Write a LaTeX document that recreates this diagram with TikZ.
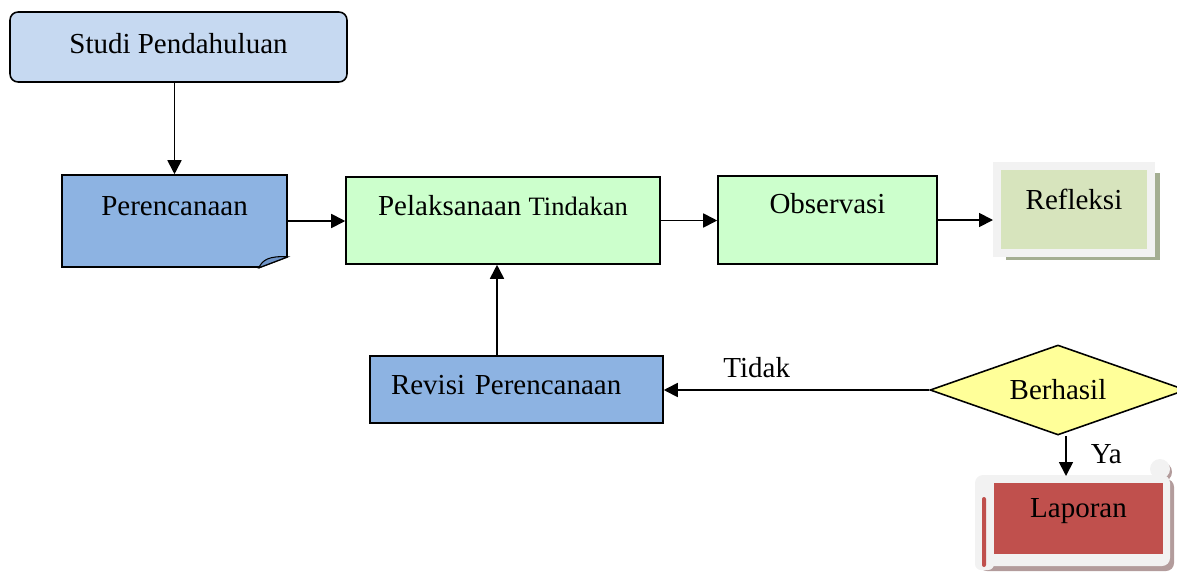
\documentclass[tikz,border=0pt]{standalone}
\usepackage{fontspec}
\setmainfont{Liberation Serif}
\usepackage{tikz}
\usetikzlibrary{arrows.meta, positioning, shapes.geometric, shadows}
\definecolor{studiblue}{HTML}{C6D9F1}
\definecolor{planblue}{HTML}{8DB3E2}
\definecolor{foldblue}{HTML}{6E94C8}
\definecolor{actgreen}{HTML}{CCFFCC}
\definecolor{reflgreen}{HTML}{D7E4BD}
\definecolor{reflshade}{HTML}{A4AE92}
\definecolor{framegray}{HTML}{F2F2F2}
\definecolor{decyellow}{HTML}{FFFF99}
\definecolor{lapred}{HTML}{C0504D}
\definecolor{lapshade}{HTML}{B39C9C}
\tikzset{box/.style={draw=black, line width=0.9pt, inner xsep=0pt, inner ysep=0pt, font=\fontsize{16.5}{20}\selectfont},
         lbl/.style={inner sep=0pt, font=\fontsize{16.5}{20}\selectfont},
         arr/.style={-{Triangle[length=0.28cm,width=0.28cm]}, line width=1pt}}

\begin{document}
\begin{tikzpicture}[x=0.02cm, y=-0.02cm]
                 \useasboundingbox (0,0) rectangle (1177,572);
                 \clip (0,0) rectangle (1177,572);
                 \node[box, rounded corners=0.16cm, fill=studiblue, minimum width=6.74cm, minimum height=1.4cm, text height=0.82cm, text depth=0.58cm] (studi) at (178.5,47) {Studi Pendahuluan};
                 \node[box, fill=planblue, minimum width=4.5cm, minimum height=1.84cm, text height=0.8cm, text depth=1.04cm] (plan) at (174.5,221) {Perencanaan};
                 \fill[white] ([shift={(-29,0)}]plan.south east) -- ([shift={(0,-11)}]plan.south east) -- ([shift={(3,-11)}]plan.south east) -- ([shift={(3,3)}]plan.south east) -- ([shift={(-29,3)}]plan.south east) -- cycle;
                 \draw[line width=0.9pt] ([shift={(-29,0)}]plan.south east) -- ([shift={(0,-11)}]plan.south east);
                 \filldraw[fill=foldblue, line width=0.6pt] ([shift={(-29,0)}]plan.south east) .. controls ([shift={(-25,-8)}]plan.south east) and ([shift={(-19,-12)}]plan.south east) .. ([shift={(0,-11)}]plan.south east) -- cycle;
                 \node[box, fill=actgreen, minimum width=6.28cm, minimum height=1.74cm, text height=0.76cm, text depth=0.98cm] (pel) at (503,220.5) {Pelaksanaan {\fontsize{15.1}{18}\selectfont Tindakan}};
                 \node[box, fill=actgreen, minimum width=4.38cm, minimum height=1.76cm, text height=0.74cm, text depth=1.02cm] (obs) at (827.5,220) {Observasi};
                 \node[box, draw=framegray, line width=0.16cm, fill=reflgreen, minimum width=3.08cm, minimum height=1.74cm, text height=0.86cm, text depth=0.88cm, drop shadow={shadow xshift=0.18cm, shadow yshift=-0.14cm, fill=reflshade, opacity=1}] (refl) at (1074,209.5) {Refleksi};
                 \node[box, fill=planblue, minimum width=5.86cm, minimum height=1.34cm, text height=0.76cm, text depth=0.58cm, text width=5.02cm, align=left, inner xsep=0.42cm] (rev) at (516.5,389.5) {Revisi Perencanaan};
                 \node[box, diamond, aspect=2.84, fill=decyellow, minimum width=5.12cm, minimum height=1.8cm] (dec) at (1058,390) {Berhasil};
                 \fill[lapshade, rounded corners=0.16cm] (979,479) rectangle (1174,571);
                 \fill[lapshade] (1162,472) circle (10);
                 \fill[framegray, rounded corners=0.16cm] (975,475) rectangle (1170,566);
                 \fill[framegray, rounded corners=0.12cm] (975,530) rectangle (994,570);
                 \fill[framegray] (1160,469) circle (10);
                 \fill[lapred, rounded corners=0.04cm] (982,497) rectangle (986,567);
                 \node[box, draw=none, fill=lapred, minimum width=3.38cm, minimum height=1.42cm, text height=0.68cm, text depth=0.74cm] (lap) at (1078.5,518.5) {Laporan};
                 \coordinate (up) at ([xshift=-0.12cm]pel.south);
                 \coordinate (lapin) at (1066,476);
                 \draw[arr] (studi.south -| plan.north) -- (plan.north);
                 \draw[arr] (plan.east) -- (plan.east -| pel.west);
                 \draw[arr] (pel.east) -- (pel.east -| obs.west);
                 \draw[arr] (obs.east) -- (obs.east -| refl.west);
                 \draw[arr] (rev.north -| up) -- (up);
                 \draw[arr] (dec.west) -- node[lbl, pos=0.65, above=0.22cm]{Tidak} (dec.west -| rev.east);
                 \draw[arr] (dec.south -| lapin) -- node[lbl, pos=0.45, right=0.48cm]{Ya} (lapin);
             \end{tikzpicture}
\end{document}
